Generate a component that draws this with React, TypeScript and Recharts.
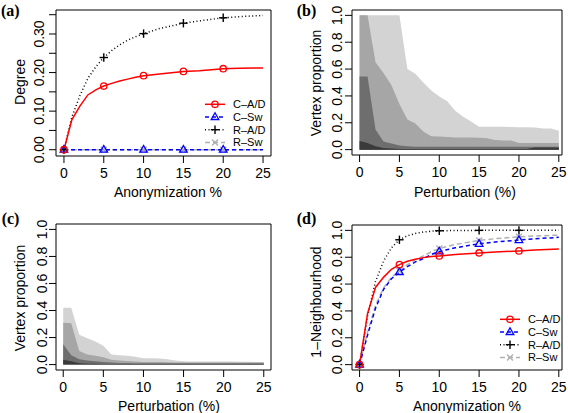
import React from 'react';
import { ComposedChart, Line, Area, XAxis, YAxis, ReferenceArea, Legend } from 'recharts';

const FONT = '"Liberation Sans", Arial, Helvetica, sans-serif';
const SERIF = '"Liberation Serif", "Times New Roman", serif';

// ---------- data ----------
const seriesNames = ['C–A/D', 'C–Sw', 'R–A/D', 'R–Sw'];
const xTicks = [0, 5, 10, 15, 20, 25];
const markerX = [0, 5, 10, 15, 20];
const yTicksA = [0, 0.05, 0.1, 0.15, 0.2, 0.25, 0.3, 0.35];
const yTicksUnit = [0, 0.2, 0.4, 0.6, 0.8, 1.0];

// anonymization % (panels a, d)
const xLine = [0, 1, 2, 3, 4, 5, 6, 7, 8, 9, 10, 12, 15, 17, 20, 22, 25];
// (a) Degree
const cadA = [0, 0.078, 0.113, 0.142, 0.155, 0.165, 0.172, 0.178, 0.183, 0.188, 0.192, 0.196, 0.203, 0.205, 0.21, 0.211, 0.212];
const cswA = [0, 0, 0, 0, 0, 0, 0, 0, 0, 0, 0, 0, 0, 0, 0, 0, 0];
const radA = [0, 0.085, 0.14, 0.185, 0.215, 0.239, 0.257, 0.272, 0.284, 0.293, 0.301, 0.314, 0.328, 0.334, 0.342, 0.345, 0.348];
const rswA = [0, 0, 0, 0, 0, 0, 0, 0, 0, 0, 0, 0, 0, 0, 0, 0, 0];
// (d) 1-Neighbourhood
const cadD = [0, 0.38, 0.575, 0.65, 0.71, 0.745, 0.77, 0.785, 0.797, 0.805, 0.81, 0.82, 0.832, 0.838, 0.847, 0.853, 0.862];
const cswD = [0, 0.22, 0.42, 0.56, 0.64, 0.69, 0.73, 0.765, 0.79, 0.82, 0.843, 0.87, 0.9, 0.913, 0.928, 0.937, 0.948];
const radD = [0, 0.36, 0.62, 0.77, 0.87, 0.93, 0.96, 0.977, 0.988, 0.994, 0.997, 0.999, 1, 1, 1, 1, 1];
const rswD = [0, 0.24, 0.44, 0.57, 0.65, 0.7, 0.745, 0.78, 0.81, 0.84, 0.865, 0.895, 0.925, 0.938, 0.952, 0.958, 0.965];

// perturbation % (panels b, c)
const xPert = [0, 1, 2, 3, 4, 5, 6, 7, 8, 9, 10, 11, 12, 13, 14, 15, 16, 17, 18, 19, 20, 21, 22, 23, 24, 25];
const bL1 = [1, 1, 1, 1, 1, 1, 0.6, 0.565, 0.5, 0.44, 0.395, 0.36, 0.29, 0.245, 0.21, 0.17, 0.17, 0.17, 0.17, 0.168, 0.167, 0.166, 0.165, 0.158, 0.157, 0.14];
const bL2 = [1, 1, 0.65, 0.57, 0.48, 0.34, 0.225, 0.195, 0.135, 0.1, 0.098, 0.095, 0.09, 0.09, 0.09, 0.088, 0.085, 0.072, 0.068, 0.068, 0.05, 0.05, 0.05, 0.05, 0.05, 0.05];
const bL3 = [0.545, 0.545, 0.15, 0.06, 0.045, 0.03, 0.025, 0.022, 0.022, 0.022, 0.022, 0.022, 0.022, 0.022, 0.022, 0.022, 0.022, 0.022, 0.022, 0.022, 0.022, 0.022, 0.022, 0.022, 0.022, 0.022];
const bL4 = [0.065, 0.05, 0.025, 0.012, 0.008, 0.005, 0.005, 0.005, 0.005, 0.005, 0.005, 0.005, 0.005, 0.005, 0.005, 0.005, 0.005, 0.005, 0.005, 0.005, 0.005, 0.005, 0.015, 0.015, 0.015, 0.015];
const cL1 = [0.42, 0.42, 0.22, 0.195, 0.17, 0.14, 0.075, 0.07, 0.065, 0.058, 0.047, 0.046, 0.045, 0.04, 0.03, 0.025, 0.023, 0.023, 0.022, 0.022, 0.022, 0.022, 0.021, 0.021, 0.02, 0.02];
const cL2 = [0.31, 0.305, 0.1, 0.075, 0.065, 0.055, 0.035, 0.03, 0.026, 0.022, 0.02, 0.02, 0.019, 0.018, 0.016, 0.015, 0.015, 0.015, 0.015, 0.015, 0.015, 0.015, 0.015, 0.015, 0.015, 0.015];
const cL3 = [0.15, 0.07, 0.04, 0.03, 0.025, 0.02, 0.015, 0.012, 0.011, 0.01, 0.01, 0.01, 0.01, 0.01, 0.01, 0.01, 0.01, 0.01, 0.01, 0.01, 0.01, 0.01, 0.01, 0.01, 0.01, 0.01];
const cL4 = [0.035, 0.025, 0.01, 0.007, 0.006, 0.005, 0.005, 0.005, 0.005, 0.005, 0.005, 0.005, 0.005, 0.005, 0.005, 0.005, 0.005, 0.005, 0.005, 0.005, 0.005, 0.005, 0.005, 0.005, 0.005, 0.005];

const dataA = xLine.map((x, i) => ({ x, cad: cadA[i], csw: cswA[i], rad: radA[i], rsw: rswA[i] }));
const dataD = xLine.map((x, i) => ({ x, cad: cadD[i], csw: cswD[i], rad: radD[i], rsw: rswD[i] }));
const dataB = xPert.map((x, i) => ({ x, l1: bL1[i], l2: bL2[i], l3: bL3[i], l4: bL4[i] }));
const dataC = xPert.map((x, i) => ({ x, l1: cL1[i], l2: cL2[i], l3: cL3[i], l4: cL4[i] }));

// ---------- styles ----------
type MK = 'circle' | 'triangle' | 'plus' | 'cross';
const lineStyles: { key: string; color: string; dash?: string; marker: MK; width: number }[] = [
  { key: 'cad', color: '#ff0000', dash: undefined, marker: 'circle', width: 1.5 },
  { key: 'csw', color: '#0000ff', dash: '4 3', marker: 'triangle', width: 1.5 },
  { key: 'rad', color: '#000000', dash: '1 2.5', marker: 'plus', width: 1.5 },
  { key: 'rsw', color: '#b0b0b0', dash: '5 3', marker: 'cross', width: 1.5 },
];
const drawOrder = [3, 2, 1, 0];
const greys = ['#d3d3d3', '#a6a6a6', '#6e6e6e', '#3a3a3a'];

function Marker({ kind, cx, cy, color }: { kind: MK; cx: number; cy: number; color: string }) {
  if (kind === 'circle') return <circle cx={cx} cy={cy} r={3.2} fill="none" stroke={color} strokeWidth={1.3} />;
  if (kind === 'triangle')
    return <polygon points={`${cx},${cy - 4.2} ${cx - 3.8},${cy + 2.5} ${cx + 3.8},${cy + 2.5}`} fill="none" stroke={color} strokeWidth={1.3} />;
  if (kind === 'plus')
    return (
      <g stroke={color} strokeWidth={1.4}>
        <line x1={cx - 4.2} y1={cy} x2={cx + 4.2} y2={cy} />
        <line x1={cx} y1={cy - 4.2} x2={cx} y2={cy + 4.2} />
      </g>
    );
  return (
    <g stroke={color} strokeWidth={1.4}>
      <line x1={cx - 3} y1={cy - 3} x2={cx + 3} y2={cy + 3} />
      <line x1={cx - 3} y1={cy + 3} x2={cx + 3} y2={cy - 3} />
    </g>
  );
}

const dotFor = (kind: MK, color: string) => (p: any) => {
  const { cx, cy, payload, index } = p;
  if (cx == null || cy == null || !payload || !markerX.includes(payload.x)) return <g key={`e${index}`} />;
  return (
    <g key={`d${index}`}>
      <Marker kind={kind} cx={cx} cy={cy} color={color} />
    </g>
  );
};

const XTick = (p: any) => (
  <text x={p.x} y={p.y + 15.3} textAnchor="middle" fontSize={14} fontFamily={FONT} fill="#000">
    {p.payload.value}
  </text>
);

const makeYTick = (cxLabel: number, digits: number, show: (v: number) => boolean) => (p: any) => {
  const v = p.payload.value;
  if (!show(v)) return <g />;
  return (
    <text
      x={cxLabel}
      y={p.y}
      dy="0.355em"
      transform={`rotate(-90 ${cxLabel} ${p.y})`}
      textAnchor="middle"
      fontSize={14}
      fontFamily={FONT}
      fill="#000"
    >
      {v.toFixed(digits)}
    </text>
  );
};

function LegendBox() {
  const rows = [8.3, 21, 33.7, 46.4];
  return (
    <svg width={80} height={56} style={{ display: 'block', overflow: 'visible' }}>
      {lineStyles.map((s, i) => (
        <g key={s.key}>
          <line x1={5} y1={rows[i]} x2={25} y2={rows[i]} stroke={s.color} strokeWidth={1.5} strokeDasharray={s.dash} />
          <Marker kind={s.marker} cx={15} cy={rows[i]} color={s.color} />
          <text x={33} y={rows[i] + 4} fontSize={11} fontFamily={FONT} fill="#000">
            {seriesNames[i]}
          </text>
        </g>
      ))}
    </svg>
  );
}

type PanelCfg = {
  left: number;
  top: number;
  width: number;
  height: number;
  margin: { top: number; right: number; bottom: number; left: number };
  xAxisH: number;
  yAxisW: number;
  xDomain: [number, number];
  yDomain: [number, number];
  yTicks: number[];
  yDigits: number;
  yShow: (v: number) => boolean;
  yLabelCx: number;
  xTitle: string;
  xTitleX: number;
  xTitleY: number;
  yTitle: string;
  yTitleX: number;
  yTitleY: number;
  tag: string;
  tagX: number;
  tagY: number;
  legendPos?: { left: number; top: number };
};

function Frame(cfg: PanelCfg, data: any[], series: React.ReactNode) {
  const yLabel = () => (
    <g>
      <text
        x={cfg.yTitleX}
        y={cfg.yTitleY}
        dy="0.355em"
        transform={`rotate(-90 ${cfg.yTitleX} ${cfg.yTitleY})`}
        textAnchor="middle"
        fontSize={14}
        fontFamily={FONT}
        fill="#000"
      >
        {cfg.yTitle}
      </text>
      <text x={cfg.tagX} y={cfg.tagY} fontSize={16} fontWeight="bold" fontFamily={SERIF} fill="#000">
        {cfg.tag}
      </text>
    </g>
  );
  const xLabel = () => (
    <text x={cfg.xTitleX} y={cfg.xTitleY} textAnchor="middle" fontSize={14} fontFamily={FONT} fill="#000">
      {cfg.xTitle}
    </text>
  );
  return (
    <div style={{ position: 'absolute', left: cfg.left, top: cfg.top }}>
      <ComposedChart width={cfg.width} height={cfg.height} data={data} margin={cfg.margin}>
        <XAxis
          type="number"
          dataKey="x"
          domain={cfg.xDomain}
          ticks={xTicks}
          interval={0}
          allowDataOverflow
          axisLine={false}
          tickLine={{ stroke: '#000', strokeWidth: 1 }}
          tickSize={7}
          tickMargin={0}
          height={cfg.xAxisH}
          tick={XTick}
          label={xLabel}
        />
        <YAxis
          type="number"
          domain={cfg.yDomain}
          ticks={cfg.yTicks}
          interval={0}
          allowDataOverflow
          axisLine={false}
          tickLine={{ stroke: '#000', strokeWidth: 1 }}
          tickSize={7}
          tickMargin={0}
          width={cfg.yAxisW}
          tick={makeYTick(cfg.yLabelCx, cfg.yDigits, cfg.yShow)}
          label={yLabel}
        />
        {series}
        <ReferenceArea
          x1={cfg.xDomain[0]}
          x2={cfg.xDomain[1]}
          y1={cfg.yDomain[0]}
          y2={cfg.yDomain[1]}
          fill="none"
          fillOpacity={0}
          stroke="#000"
          strokeWidth={1}
          ifOverflow="visible"
        />
        {cfg.legendPos ? (
          <Legend
            layout="horizontal"
            verticalAlign="middle"
            align="center"
            content={() => <LegendBox />}
            wrapperStyle={{ position: 'absolute', left: cfg.legendPos.left, top: cfg.legendPos.top, width: 80, height: 56, margin: 0, padding: 0 }}
          />
        ) : null}
      </ComposedChart>
    </div>
  );
}

const lineSeries = drawOrder.map((i) => {
  const s = lineStyles[i];
  return (
    <Line
      key={s.key}
      type="linear"
      dataKey={s.key}
      stroke={s.color}
      strokeWidth={s.width}
      strokeDasharray={s.dash}
      dot={dotFor(s.marker, s.color)}
      activeDot={false}
      isAnimationActive={false}
    />
  );
});

const areaSeries = ['l1', 'l2', 'l3', 'l4'].map((k, i) => (
  <Area
    key={k}
    type="linear"
    dataKey={k}
    stroke="none"
    fill={greys[i]}
    fillOpacity={1}
    baseValue={0}
    dot={false}
    activeDot={false}
    isAnimationActive={false}
  />
));

const showAll = () => true;
const showTenths = (v: number) => Math.abs(Math.round(v * 100) % 10) === 0;

const cfgA: PanelCfg = {
  left: 0, top: 0, width: 284, height: 206,
  margin: { top: 10, right: 13, bottom: 0, left: 0 },
  xAxisH: 50, yAxisW: 56,
  xDomain: [-1, 26], yDomain: [-0.0163, 0.3622],
  yTicks: yTicksA, yDigits: 2, yShow: showTenths, yLabelCx: 39,
  xTitle: 'Anonymization %', xTitleX: 168, xTitleY: 196.7,
  yTitle: 'Degree', yTitleX: 20, yTitleY: 82,
  tag: '(a)', tagX: 1, tagY: 15.5,
  legendPos: { left: 200, top: 96 },
};
const cfgB: PanelCfg = {
  left: 284, top: 0, width: 284, height: 206,
  margin: { top: 10, right: 6, bottom: 0, left: 0 },
  xAxisH: 51, yAxisW: 68,
  xDomain: [-0.95, 25.4], yDomain: [-0.04, 1.04],
  yTicks: yTicksUnit, yDigits: 1, yShow: showAll, yLabelCx: 53.3,
  xTitle: 'Perturbation (%)', xTitleX: 181, xTitleY: 196.7,
  yTitle: 'Vertex proportion', yTitleX: 32.3, yTitleY: 83,
  tag: '(b)', tagX: 12.7, tagY: 15.5,
};
const cfgC: PanelCfg = {
  left: 0, top: 206, width: 284, height: 207,
  margin: { top: 18, right: 13, bottom: 0, left: 0 },
  xAxisH: 43, yAxisW: 56,
  xDomain: [-0.9, 25.9], yDomain: [-0.04, 1.04],
  yTicks: yTicksUnit, yDigits: 1, yShow: showAll, yLabelCx: 42.3,
  xTitle: 'Perturbation (%)', xTitleX: 169, xTitleY: 205,
  yTitle: 'Vertex proportion', yTitleX: 20.5, yTitleY: 92,
  tag: '(c)', tagX: 1.7, tagY: 18,
};
const cfgD: PanelCfg = {
  left: 284, top: 206, width: 284, height: 207,
  margin: { top: 19, right: 6, bottom: 0, left: 0 },
  xAxisH: 43, yAxisW: 68,
  xDomain: [-0.95, 25.4], yDomain: [-0.04, 1.04],
  yTicks: yTicksUnit, yDigits: 1, yShow: showAll, yLabelCx: 53.3,
  xTitle: 'Anonymization %', xTitleX: 183, xTitleY: 205,
  yTitle: '1–Neighbourhood', yTitleX: 32.5, yTitleY: 96,
  tag: '(d)', tagX: 12.7, tagY: 18,
  legendPos: { left: 211, top: 105 },
};

export default function App() {
  return (
    <div style={{ position: 'absolute', left: 0, top: 0, width: 568, height: 413, background: '#fff', overflow: 'hidden' }}>
      {Frame(cfgA, dataA, lineSeries)}
      {Frame(cfgB, dataB, areaSeries)}
      {Frame(cfgC, dataC, areaSeries)}
      {Frame(cfgD, dataD, lineSeries)}
    </div>
  );
}
